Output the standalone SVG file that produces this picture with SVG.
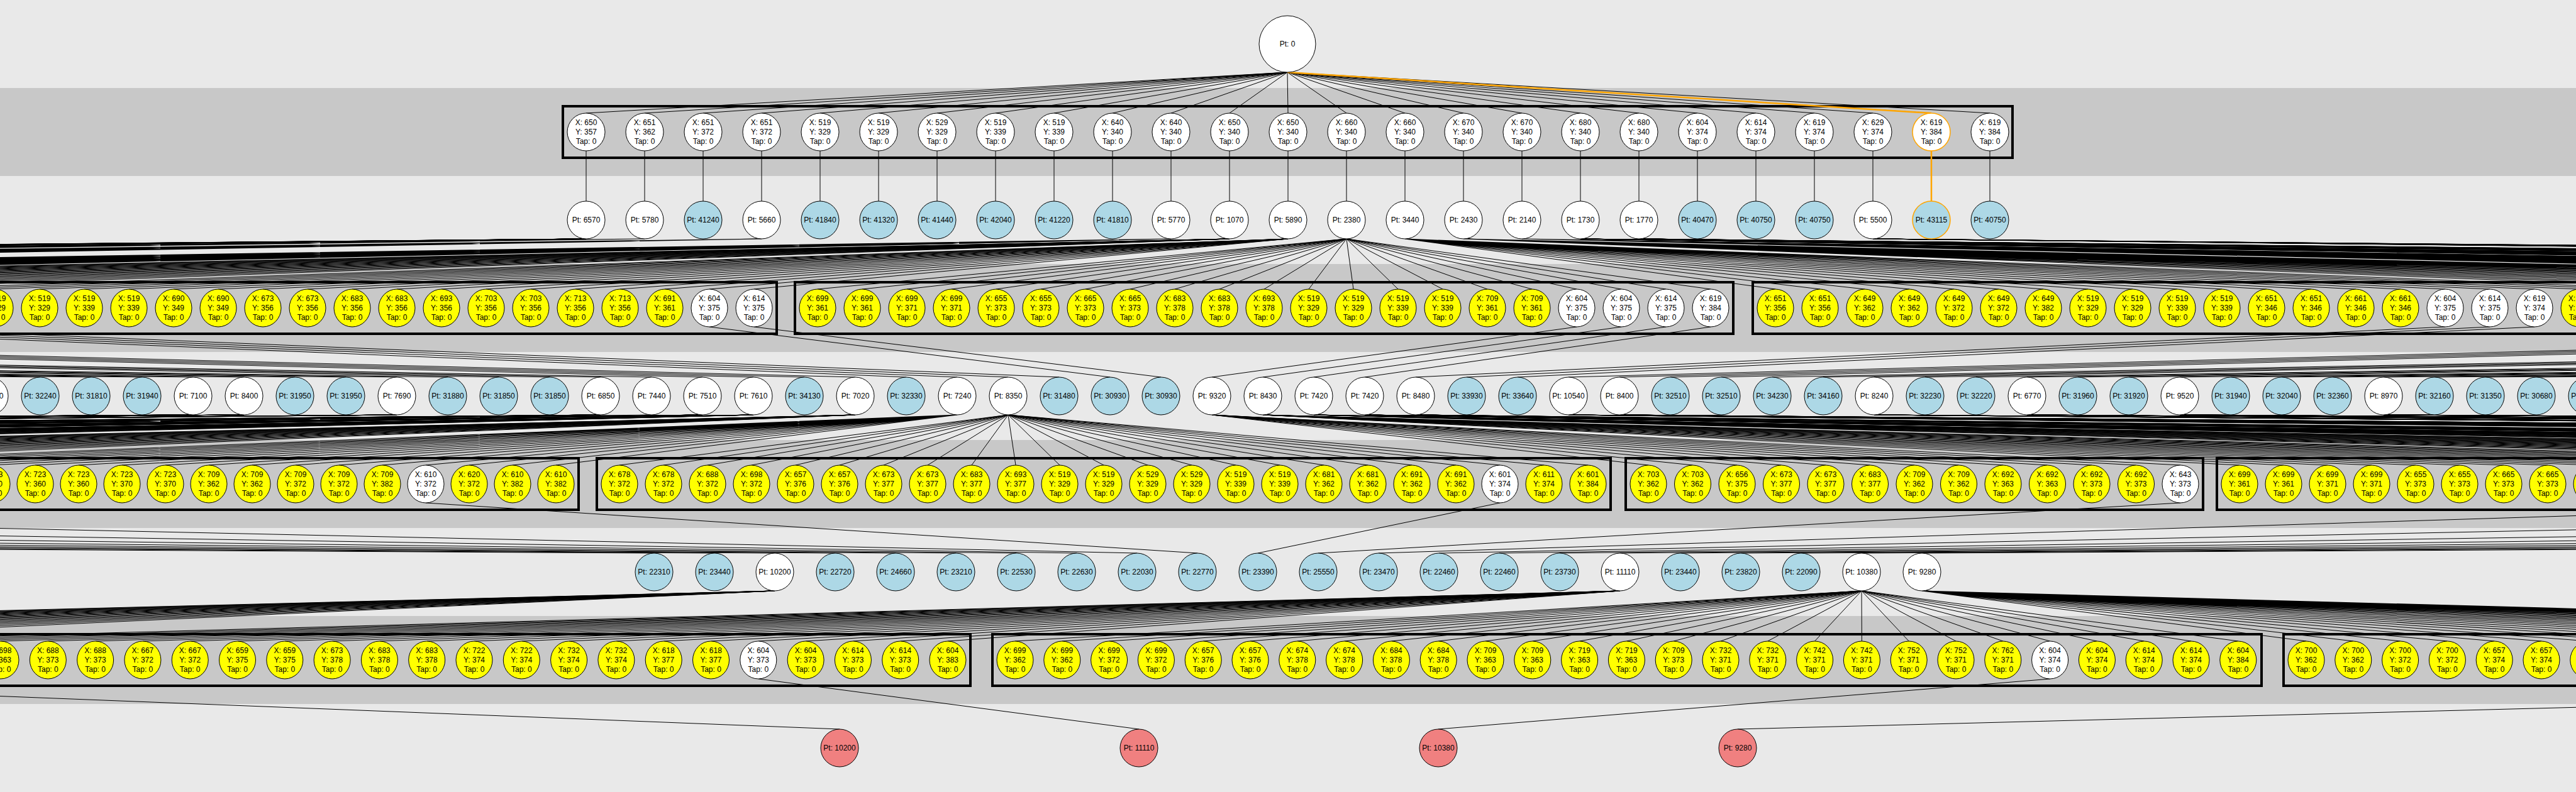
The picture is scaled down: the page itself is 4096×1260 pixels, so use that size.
<svg xmlns="http://www.w3.org/2000/svg" xmlns:xlink="http://www.w3.org/1999/xlink" width="4096" height="1260" viewBox="0 0 4096 1260">
<style>
.bg{fill:#e9e9e9}
.band{fill:#c8c8c8}
.box{fill:none;stroke:#000;stroke-width:4}
.ln{fill:none;stroke:#000;stroke-width:1}
.or{fill:none;stroke:#ffa500;stroke-width:2.5}
circle,ellipse{stroke:#000;stroke-width:1}
.w{fill:#fff}.b{fill:#add8e6}.y{fill:#ff0}.r{fill:#f08080}
.ob{stroke:#ffa500;stroke-width:1.5}
text{font-family:"Liberation Sans",Arial,sans-serif;font-size:12px;text-anchor:middle;dominant-baseline:central;fill:#000}
</style>
<defs>
<path id="f13" fill="none" stroke="#000" stroke-width="1" vector-effect="non-scaling-stroke" d="M0 0L0 1M0 0L1 1M0 0L2 1M0 0L3 1M0 0L4 1M0 0L5 1M0 0L6 1M0 0L7 1M0 0L8 1M0 0L9 1M0 0L10 1M0 0L11 1M0 0L12 1"/>
<path id="f20" fill="none" stroke="#000" stroke-width="1" vector-effect="non-scaling-stroke" d="M0 0L0 1M0 0L1 1M0 0L2 1M0 0L3 1M0 0L4 1M0 0L5 1M0 0L6 1M0 0L7 1M0 0L8 1M0 0L9 1M0 0L10 1M0 0L11 1M0 0L12 1M0 0L13 1M0 0L14 1M0 0L15 1M0 0L16 1M0 0L17 1M0 0L18 1M0 0L19 1"/>
<path id="f21" fill="none" stroke="#000" stroke-width="1" vector-effect="non-scaling-stroke" d="M0 0L0 1M0 0L1 1M0 0L2 1M0 0L3 1M0 0L4 1M0 0L5 1M0 0L6 1M0 0L7 1M0 0L8 1M0 0L9 1M0 0L10 1M0 0L11 1M0 0L12 1M0 0L13 1M0 0L14 1M0 0L15 1M0 0L16 1M0 0L17 1M0 0L18 1M0 0L19 1M0 0L20 1"/>
<path id="f23" fill="none" stroke="#000" stroke-width="1" vector-effect="non-scaling-stroke" d="M0 0L0 1M0 0L1 1M0 0L2 1M0 0L3 1M0 0L4 1M0 0L5 1M0 0L6 1M0 0L7 1M0 0L8 1M0 0L9 1M0 0L10 1M0 0L11 1M0 0L12 1M0 0L13 1M0 0L14 1M0 0L15 1M0 0L16 1M0 0L17 1M0 0L18 1M0 0L19 1M0 0L20 1M0 0L21 1M0 0L22 1"/>
<path id="f25" fill="none" stroke="#000" stroke-width="1" vector-effect="non-scaling-stroke" d="M0 0L0 1M0 0L1 1M0 0L2 1M0 0L3 1M0 0L4 1M0 0L5 1M0 0L6 1M0 0L7 1M0 0L8 1M0 0L9 1M0 0L10 1M0 0L11 1M0 0L12 1M0 0L13 1M0 0L14 1M0 0L15 1M0 0L16 1M0 0L17 1M0 0L18 1M0 0L19 1M0 0L20 1M0 0L21 1M0 0L22 1M0 0L23 1M0 0L24 1"/>
<path id="f27" fill="none" stroke="#000" stroke-width="1" vector-effect="non-scaling-stroke" d="M0 0L0 1M0 0L1 1M0 0L2 1M0 0L3 1M0 0L4 1M0 0L5 1M0 0L6 1M0 0L7 1M0 0L8 1M0 0L9 1M0 0L10 1M0 0L11 1M0 0L12 1M0 0L13 1M0 0L14 1M0 0L15 1M0 0L16 1M0 0L17 1M0 0L18 1M0 0L19 1M0 0L20 1M0 0L21 1M0 0L22 1M0 0L23 1M0 0L24 1M0 0L25 1M0 0L26 1"/>
<path id="f32" fill="none" stroke="#000" stroke-width="1" vector-effect="non-scaling-stroke" d="M0 0L0 1M0 0L1 1M0 0L2 1M0 0L3 1M0 0L4 1M0 0L5 1M0 0L6 1M0 0L7 1M0 0L8 1M0 0L9 1M0 0L10 1M0 0L11 1M0 0L12 1M0 0L13 1M0 0L14 1M0 0L15 1M0 0L16 1M0 0L17 1M0 0L18 1M0 0L19 1M0 0L20 1M0 0L21 1M0 0L22 1M0 0L23 1M0 0L24 1M0 0L25 1M0 0L26 1M0 0L27 1M0 0L28 1M0 0L29 1M0 0L30 1M0 0L31 1"/>
</defs>
<rect class="bg" x="0" y="0" width="4096" height="1260"/>
<g id="bands">
<rect class="band" x="0" y="140" width="4096" height="140"/>
<rect class="band" x="0" y="420" width="4096" height="140"/>
<rect class="band" x="0" y="700" width="4096" height="140"/>
<rect class="band" x="0" y="980" width="4096" height="140"/>
</g>
<g id="clusters">
<rect class="box" x="895" y="169" width="2305" height="82"/>
<rect class="box" x="-190" y="449" width="1425" height="82"/>
<rect class="box" x="1264" y="449" width="1492" height="82"/>
<rect class="box" x="2787" y="449" width="1500" height="82"/>
<rect class="box" x="-500" y="729" width="1420" height="82"/>
<rect class="box" x="949" y="729" width="1612" height="82"/>
<rect class="box" x="2585" y="729" width="918" height="82"/>
<rect class="box" x="3525" y="729" width="700" height="82"/>
<rect class="box" x="-340" y="1009" width="1883" height="82"/>
<rect class="box" x="1578" y="1009" width="2018" height="82"/>
<rect class="box" x="3631" y="1009" width="700" height="82"/>
</g>
<g id="connectors">
<use href="#f25" transform="matrix(93 0 -1115 65 2047 115)"/>
<path class="ln" d="M932 240V320M1025 240V320M1118 240V320M1211 240V320M1304 240V320M1397 240V320M1490 240V320M1583 240V320M1676 240V320M1769 240V320M1862 240V320M1955 240V320M2048 240V320M2141 240V320M2234 240V320M2327 240V320M2420 240V320M2513 240V320M2606 240V320M2699 240V320M2792 240V320M2885 240V320M2978 240V320M3164 240V320"/>
<use href="#f21" transform="matrix(71 0 -8682 80 932 380)"/>
<use href="#f21" transform="matrix(71 0 -7255 80 1025 380)"/>
<use href="#f21" transform="matrix(71 0 -5921 80 1211 380)"/>
<use href="#f21" transform="matrix(71 0 -5052 80 1862 380)"/>
<use href="#f21" transform="matrix(71 0 -3625 80 1955 380)"/>
<use href="#f20" transform="matrix(71 0 -2198 80 2048 380)"/>
<use href="#f21" transform="matrix(71 0 -841 80 2141 380)"/>
<use href="#f21" transform="matrix(71 0 589 80 2234 380)"/>
<use href="#f21" transform="matrix(71 0 2018 80 2327 380)"/>
<use href="#f21" transform="matrix(71 0 3447 80 2420 380)"/>
<use href="#f21" transform="matrix(71 0 4876 80 2513 380)"/>
<use href="#f21" transform="matrix(71 0 6305 80 2606 380)"/>
<use href="#f21" transform="matrix(71 0 7455 80 2978 380)"/>
<path class="ln" d="M-6685 520L-17 600M-6614 520L64 600M-6543 520L145 600M-6472 520L226 600M-6401 520L307 600M-6330 520L388 600M-5023 520L469 600M-4952 520L550 600M-4881 520L631 600M-4810 520L712 600M-3503 520L793 600M-3432 520L874 600M-3361 520L955 600M-3290 520L1036 600M-1983 520L1117 600M-1912 520L1198 600M-1841 520L1279 600M-1770 520L1360 600M-463 520L1441 600M-392 520L1522 600M-321 520L1603 600M-250 520L1684 600M1128 520L1765 600M1199 520L1846 600M2507 520L1927 600M2578 520L2008 600M2649 520L2089 600M2720 520L2170 600M3888 520L2251 600M3959 520L2332 600M4030 520L2413 600M5481 520L2494 600M5552 520L2575 600M5623 520L2656 600M5694 520L2737 600M7003 520L2818 600M7074 520L2899 600M7145 520L2980 600M7216 520L3061 600M8525 520L3142 600M8596 520L3223 600M8667 520L3304 600M8738 520L3385 600M10047 520L3466 600M10118 520L3547 600M10189 520L3628 600M10260 520L3709 600M11498 520L3790 600M11569 520L3871 600M11640 520L3952 600M11711 520L4033 600M11782 520L4114 600"/>
<use href="#f20" transform="matrix(70 0 -13298 80 -17 660)"/>
<use href="#f20" transform="matrix(70 0 -12190 80 307 660)"/>
<use href="#f20" transform="matrix(70 0 -10839 80 388 660)"/>
<use href="#f20" transform="matrix(70 0 -9650 80 631 660)"/>
<use href="#f20" transform="matrix(70 0 -8542 80 955 660)"/>
<use href="#f20" transform="matrix(70 0 -7191 80 1036 660)"/>
<use href="#f20" transform="matrix(70 0 -5840 80 1117 660)"/>
<use href="#f20" transform="matrix(70 0 -4489 80 1198 660)"/>
<use href="#f20" transform="matrix(70 0 -3219 80 1360 660)"/>
<use href="#f20" transform="matrix(69 0 -1949 80 1522 660)"/>
<use href="#f23" transform="matrix(70 0 -618 80 1603 660)"/>
<use href="#f13" transform="matrix(70.5 0 694 80 1927 660)"/>
<use href="#f20" transform="matrix(70 0 1553 80 2008 660)"/>
<use href="#f20" transform="matrix(70 0 2904 80 2089 660)"/>
<use href="#f20" transform="matrix(70 0 4255 80 2170 660)"/>
<use href="#f20" transform="matrix(70 0 5606 80 2251 660)"/>
<use href="#f20" transform="matrix(70 0 6795 80 2494 660)"/>
<use href="#f20" transform="matrix(70 0 8146 80 2575 660)"/>
<use href="#f20" transform="matrix(70 0 9173 80 2980 660)"/>
<use href="#f20" transform="matrix(70 0 10362 80 3223 660)"/>
<use href="#f20" transform="matrix(70 0 11551 80 3466 660)"/>
<use href="#f20" transform="matrix(70 0 12659 80 3790 660)"/>
<path class="ln" d="M-13315 800L1040 880M-11883 800L1136 880M-10451 800L1232 880M-9019 800L1328 880M-7587 800L1424 880M-6155 800L1520 880M-4723 800L1616 880M-3291 800L1712 880M-1859 800L1808 880M677 800L1904 880M2385 800L2000 880M3467 800L2096 880M4751 800L2192 880M6183 800L2288 880M7615 800L2384 880M9047 800L2480 880M10479 800L2576 880M11911 800L2672 880M13343 800L2768 880M14775 800L2864 880M16207 800L2960 880M17639 800L3056 880"/>
<use href="#f20" transform="matrix(75.3 0 -3138 80 1232 940)"/>
<use href="#f25" transform="matrix(75.3 0 -2876 80 2576 940)"/>
<use href="#f27" transform="matrix(74.8 0 -1346 80 2960 940)"/>
<use href="#f32" transform="matrix(74.8 0 611 80 3056 940)"/>
<path class="ln" d="M-701 1080L1335 1160M1206 1080L1811 1160M3260 1080L2287 1160M5836 1080L2763 1160"/>
<path class="or" d="M2047 115L3071 180M3071 240V320"/>
</g>
<g id="nodes">
<g id="p0" transform="translate(2047 70)"><circle class="w" r="45"/><text>Pt: 0</text></g>
<g id="a1" transform="translate(932 210)"><circle class="w" r="30"/><text><tspan x="0" y="-15">X: 650</tspan><tspan x="0" y="0">Y: 357</tspan><tspan x="0" y="15">Tap: 0</tspan></text></g>
<g id="a2" transform="translate(1025 210)"><circle class="w" r="30"/><text><tspan x="0" y="-15">X: 651</tspan><tspan x="0" y="0">Y: 362</tspan><tspan x="0" y="15">Tap: 0</tspan></text></g>
<g id="a3" transform="translate(1118 210)"><circle class="w" r="30"/><text><tspan x="0" y="-15">X: 651</tspan><tspan x="0" y="0">Y: 372</tspan><tspan x="0" y="15">Tap: 0</tspan></text></g>
<g id="a4" transform="translate(1211 210)"><circle class="w" r="30"/><text><tspan x="0" y="-15">X: 651</tspan><tspan x="0" y="0">Y: 372</tspan><tspan x="0" y="15">Tap: 0</tspan></text></g>
<g id="a5" transform="translate(1304 210)"><circle class="w" r="30"/><text><tspan x="0" y="-15">X: 519</tspan><tspan x="0" y="0">Y: 329</tspan><tspan x="0" y="15">Tap: 0</tspan></text></g>
<g id="a6" transform="translate(1397 210)"><circle class="w" r="30"/><text><tspan x="0" y="-15">X: 519</tspan><tspan x="0" y="0">Y: 329</tspan><tspan x="0" y="15">Tap: 0</tspan></text></g>
<g id="a7" transform="translate(1490 210)"><circle class="w" r="30"/><text><tspan x="0" y="-15">X: 529</tspan><tspan x="0" y="0">Y: 329</tspan><tspan x="0" y="15">Tap: 0</tspan></text></g>
<g id="a8" transform="translate(1583 210)"><circle class="w" r="30"/><text><tspan x="0" y="-15">X: 519</tspan><tspan x="0" y="0">Y: 339</tspan><tspan x="0" y="15">Tap: 0</tspan></text></g>
<g id="a9" transform="translate(1676 210)"><circle class="w" r="30"/><text><tspan x="0" y="-15">X: 519</tspan><tspan x="0" y="0">Y: 339</tspan><tspan x="0" y="15">Tap: 0</tspan></text></g>
<g id="a10" transform="translate(1769 210)"><circle class="w" r="30"/><text><tspan x="0" y="-15">X: 640</tspan><tspan x="0" y="0">Y: 340</tspan><tspan x="0" y="15">Tap: 0</tspan></text></g>
<g id="a11" transform="translate(1862 210)"><circle class="w" r="30"/><text><tspan x="0" y="-15">X: 640</tspan><tspan x="0" y="0">Y: 340</tspan><tspan x="0" y="15">Tap: 0</tspan></text></g>
<g id="a12" transform="translate(1955 210)"><circle class="w" r="30"/><text><tspan x="0" y="-15">X: 650</tspan><tspan x="0" y="0">Y: 340</tspan><tspan x="0" y="15">Tap: 0</tspan></text></g>
<g id="a13" transform="translate(2048 210)"><circle class="w" r="30"/><text><tspan x="0" y="-15">X: 650</tspan><tspan x="0" y="0">Y: 340</tspan><tspan x="0" y="15">Tap: 0</tspan></text></g>
<g id="a14" transform="translate(2141 210)"><circle class="w" r="30"/><text><tspan x="0" y="-15">X: 660</tspan><tspan x="0" y="0">Y: 340</tspan><tspan x="0" y="15">Tap: 0</tspan></text></g>
<g id="a15" transform="translate(2234 210)"><circle class="w" r="30"/><text><tspan x="0" y="-15">X: 660</tspan><tspan x="0" y="0">Y: 340</tspan><tspan x="0" y="15">Tap: 0</tspan></text></g>
<g id="a16" transform="translate(2327 210)"><circle class="w" r="30"/><text><tspan x="0" y="-15">X: 670</tspan><tspan x="0" y="0">Y: 340</tspan><tspan x="0" y="15">Tap: 0</tspan></text></g>
<g id="a17" transform="translate(2420 210)"><circle class="w" r="30"/><text><tspan x="0" y="-15">X: 670</tspan><tspan x="0" y="0">Y: 340</tspan><tspan x="0" y="15">Tap: 0</tspan></text></g>
<g id="a18" transform="translate(2513 210)"><circle class="w" r="30"/><text><tspan x="0" y="-15">X: 680</tspan><tspan x="0" y="0">Y: 340</tspan><tspan x="0" y="15">Tap: 0</tspan></text></g>
<g id="a19" transform="translate(2606 210)"><circle class="w" r="30"/><text><tspan x="0" y="-15">X: 680</tspan><tspan x="0" y="0">Y: 340</tspan><tspan x="0" y="15">Tap: 0</tspan></text></g>
<g id="a20" transform="translate(2699 210)"><circle class="w" r="30"/><text><tspan x="0" y="-15">X: 604</tspan><tspan x="0" y="0">Y: 374</tspan><tspan x="0" y="15">Tap: 0</tspan></text></g>
<g id="a21" transform="translate(2792 210)"><circle class="w" r="30"/><text><tspan x="0" y="-15">X: 614</tspan><tspan x="0" y="0">Y: 374</tspan><tspan x="0" y="15">Tap: 0</tspan></text></g>
<g id="a22" transform="translate(2885 210)"><circle class="w" r="30"/><text><tspan x="0" y="-15">X: 619</tspan><tspan x="0" y="0">Y: 374</tspan><tspan x="0" y="15">Tap: 0</tspan></text></g>
<g id="a23" transform="translate(2978 210)"><circle class="w" r="30"/><text><tspan x="0" y="-15">X: 629</tspan><tspan x="0" y="0">Y: 374</tspan><tspan x="0" y="15">Tap: 0</tspan></text></g>
<g id="a24" transform="translate(3071 210)"><circle class="w ob" r="30"/><text><tspan x="0" y="-15">X: 619</tspan><tspan x="0" y="0">Y: 384</tspan><tspan x="0" y="15">Tap: 0</tspan></text></g>
<g id="a25" transform="translate(3164 210)"><circle class="w" r="30"/><text><tspan x="0" y="-15">X: 619</tspan><tspan x="0" y="0">Y: 384</tspan><tspan x="0" y="15">Tap: 0</tspan></text></g>
<g id="b1" transform="translate(932 350)"><circle class="w" r="30"/><text>Pt: 6570</text></g>
<g id="b2" transform="translate(1025 350)"><circle class="w" r="30"/><text>Pt: 5780</text></g>
<g id="b3" transform="translate(1118 350)"><circle class="b" r="30"/><text>Pt: 41240</text></g>
<g id="b4" transform="translate(1211 350)"><circle class="w" r="30"/><text>Pt: 5660</text></g>
<g id="b5" transform="translate(1304 350)"><circle class="b" r="30"/><text>Pt: 41840</text></g>
<g id="b6" transform="translate(1397 350)"><circle class="b" r="30"/><text>Pt: 41320</text></g>
<g id="b7" transform="translate(1490 350)"><circle class="b" r="30"/><text>Pt: 41440</text></g>
<g id="b8" transform="translate(1583 350)"><circle class="b" r="30"/><text>Pt: 42040</text></g>
<g id="b9" transform="translate(1676 350)"><circle class="b" r="30"/><text>Pt: 41220</text></g>
<g id="b10" transform="translate(1769 350)"><circle class="b" r="30"/><text>Pt: 41810</text></g>
<g id="b11" transform="translate(1862 350)"><circle class="w" r="30"/><text>Pt: 5770</text></g>
<g id="b12" transform="translate(1955 350)"><circle class="w" r="30"/><text>Pt: 1070</text></g>
<g id="b13" transform="translate(2048 350)"><circle class="w" r="30"/><text>Pt: 5890</text></g>
<g id="b14" transform="translate(2141 350)"><circle class="w" r="30"/><text>Pt: 2380</text></g>
<g id="b15" transform="translate(2234 350)"><circle class="w" r="30"/><text>Pt: 3440</text></g>
<g id="b16" transform="translate(2327 350)"><circle class="w" r="30"/><text>Pt: 2430</text></g>
<g id="b17" transform="translate(2420 350)"><circle class="w" r="30"/><text>Pt: 2140</text></g>
<g id="b18" transform="translate(2513 350)"><circle class="w" r="30"/><text>Pt: 1730</text></g>
<g id="b19" transform="translate(2606 350)"><circle class="w" r="30"/><text>Pt: 1770</text></g>
<g id="b20" transform="translate(2699 350)"><circle class="b" r="30"/><text>Pt: 40470</text></g>
<g id="b21" transform="translate(2792 350)"><circle class="b" r="30"/><text>Pt: 40750</text></g>
<g id="b22" transform="translate(2885 350)"><circle class="b" r="30"/><text>Pt: 40750</text></g>
<g id="b23" transform="translate(2978 350)"><circle class="w" r="30"/><text>Pt: 5500</text></g>
<g id="b24" transform="translate(3071 350)"><circle class="b ob" r="30"/><text>Pt: 43115</text></g>
<g id="b25" transform="translate(3164 350)"><circle class="b" r="30"/><text>Pt: 40750</text></g>
<g id="c1" transform="translate(-8 490)"><ellipse class="y" rx="29" ry="30"/><text><tspan x="0" y="-15">X: 519</tspan><tspan x="0" y="0">Y: 329</tspan><tspan x="0" y="15">Tap: 0</tspan></text></g>
<g id="c2" transform="translate(63 490)"><ellipse class="y" rx="29" ry="30"/><text><tspan x="0" y="-15">X: 519</tspan><tspan x="0" y="0">Y: 329</tspan><tspan x="0" y="15">Tap: 0</tspan></text></g>
<g id="c3" transform="translate(134 490)"><ellipse class="y" rx="29" ry="30"/><text><tspan x="0" y="-15">X: 519</tspan><tspan x="0" y="0">Y: 339</tspan><tspan x="0" y="15">Tap: 0</tspan></text></g>
<g id="c4" transform="translate(205 490)"><ellipse class="y" rx="29" ry="30"/><text><tspan x="0" y="-15">X: 519</tspan><tspan x="0" y="0">Y: 339</tspan><tspan x="0" y="15">Tap: 0</tspan></text></g>
<g id="c5" transform="translate(276 490)"><ellipse class="y" rx="29" ry="30"/><text><tspan x="0" y="-15">X: 690</tspan><tspan x="0" y="0">Y: 349</tspan><tspan x="0" y="15">Tap: 0</tspan></text></g>
<g id="c6" transform="translate(347 490)"><ellipse class="y" rx="29" ry="30"/><text><tspan x="0" y="-15">X: 690</tspan><tspan x="0" y="0">Y: 349</tspan><tspan x="0" y="15">Tap: 0</tspan></text></g>
<g id="c7" transform="translate(418 490)"><ellipse class="y" rx="29" ry="30"/><text><tspan x="0" y="-15">X: 673</tspan><tspan x="0" y="0">Y: 356</tspan><tspan x="0" y="15">Tap: 0</tspan></text></g>
<g id="c8" transform="translate(489 490)"><ellipse class="y" rx="29" ry="30"/><text><tspan x="0" y="-15">X: 673</tspan><tspan x="0" y="0">Y: 356</tspan><tspan x="0" y="15">Tap: 0</tspan></text></g>
<g id="c9" transform="translate(560 490)"><ellipse class="y" rx="29" ry="30"/><text><tspan x="0" y="-15">X: 683</tspan><tspan x="0" y="0">Y: 356</tspan><tspan x="0" y="15">Tap: 0</tspan></text></g>
<g id="c10" transform="translate(631 490)"><ellipse class="y" rx="29" ry="30"/><text><tspan x="0" y="-15">X: 683</tspan><tspan x="0" y="0">Y: 356</tspan><tspan x="0" y="15">Tap: 0</tspan></text></g>
<g id="c11" transform="translate(702 490)"><ellipse class="y" rx="29" ry="30"/><text><tspan x="0" y="-15">X: 693</tspan><tspan x="0" y="0">Y: 356</tspan><tspan x="0" y="15">Tap: 0</tspan></text></g>
<g id="c12" transform="translate(773 490)"><ellipse class="y" rx="29" ry="30"/><text><tspan x="0" y="-15">X: 703</tspan><tspan x="0" y="0">Y: 356</tspan><tspan x="0" y="15">Tap: 0</tspan></text></g>
<g id="c13" transform="translate(844 490)"><ellipse class="y" rx="29" ry="30"/><text><tspan x="0" y="-15">X: 703</tspan><tspan x="0" y="0">Y: 356</tspan><tspan x="0" y="15">Tap: 0</tspan></text></g>
<g id="c14" transform="translate(915 490)"><ellipse class="y" rx="29" ry="30"/><text><tspan x="0" y="-15">X: 713</tspan><tspan x="0" y="0">Y: 356</tspan><tspan x="0" y="15">Tap: 0</tspan></text></g>
<g id="c15" transform="translate(986 490)"><ellipse class="y" rx="29" ry="30"/><text><tspan x="0" y="-15">X: 713</tspan><tspan x="0" y="0">Y: 356</tspan><tspan x="0" y="15">Tap: 0</tspan></text></g>
<g id="c16" transform="translate(1057 490)"><ellipse class="y" rx="29" ry="30"/><text><tspan x="0" y="-15">X: 691</tspan><tspan x="0" y="0">Y: 361</tspan><tspan x="0" y="15">Tap: 0</tspan></text></g>
<g id="c17" transform="translate(1128 490)"><ellipse class="w" rx="29" ry="30"/><text><tspan x="0" y="-15">X: 604</tspan><tspan x="0" y="0">Y: 375</tspan><tspan x="0" y="15">Tap: 0</tspan></text></g>
<g id="c18" transform="translate(1199 490)"><ellipse class="w" rx="29" ry="30"/><text><tspan x="0" y="-15">X: 614</tspan><tspan x="0" y="0">Y: 375</tspan><tspan x="0" y="15">Tap: 0</tspan></text></g>
<g id="c19" transform="translate(1300 490)"><ellipse class="y" rx="29" ry="30"/><text><tspan x="0" y="-15">X: 699</tspan><tspan x="0" y="0">Y: 361</tspan><tspan x="0" y="15">Tap: 0</tspan></text></g>
<g id="c20" transform="translate(1371 490)"><ellipse class="y" rx="29" ry="30"/><text><tspan x="0" y="-15">X: 699</tspan><tspan x="0" y="0">Y: 361</tspan><tspan x="0" y="15">Tap: 0</tspan></text></g>
<g id="c21" transform="translate(1442 490)"><ellipse class="y" rx="29" ry="30"/><text><tspan x="0" y="-15">X: 699</tspan><tspan x="0" y="0">Y: 371</tspan><tspan x="0" y="15">Tap: 0</tspan></text></g>
<g id="c22" transform="translate(1513 490)"><ellipse class="y" rx="29" ry="30"/><text><tspan x="0" y="-15">X: 699</tspan><tspan x="0" y="0">Y: 371</tspan><tspan x="0" y="15">Tap: 0</tspan></text></g>
<g id="c23" transform="translate(1584 490)"><ellipse class="y" rx="29" ry="30"/><text><tspan x="0" y="-15">X: 655</tspan><tspan x="0" y="0">Y: 373</tspan><tspan x="0" y="15">Tap: 0</tspan></text></g>
<g id="c24" transform="translate(1655 490)"><ellipse class="y" rx="29" ry="30"/><text><tspan x="0" y="-15">X: 655</tspan><tspan x="0" y="0">Y: 373</tspan><tspan x="0" y="15">Tap: 0</tspan></text></g>
<g id="c25" transform="translate(1726 490)"><ellipse class="y" rx="29" ry="30"/><text><tspan x="0" y="-15">X: 665</tspan><tspan x="0" y="0">Y: 373</tspan><tspan x="0" y="15">Tap: 0</tspan></text></g>
<g id="c26" transform="translate(1797 490)"><ellipse class="y" rx="29" ry="30"/><text><tspan x="0" y="-15">X: 665</tspan><tspan x="0" y="0">Y: 373</tspan><tspan x="0" y="15">Tap: 0</tspan></text></g>
<g id="c27" transform="translate(1868 490)"><ellipse class="y" rx="29" ry="30"/><text><tspan x="0" y="-15">X: 683</tspan><tspan x="0" y="0">Y: 378</tspan><tspan x="0" y="15">Tap: 0</tspan></text></g>
<g id="c28" transform="translate(1939 490)"><ellipse class="y" rx="29" ry="30"/><text><tspan x="0" y="-15">X: 683</tspan><tspan x="0" y="0">Y: 378</tspan><tspan x="0" y="15">Tap: 0</tspan></text></g>
<g id="c29" transform="translate(2010 490)"><ellipse class="y" rx="29" ry="30"/><text><tspan x="0" y="-15">X: 693</tspan><tspan x="0" y="0">Y: 378</tspan><tspan x="0" y="15">Tap: 0</tspan></text></g>
<g id="c30" transform="translate(2081 490)"><ellipse class="y" rx="29" ry="30"/><text><tspan x="0" y="-15">X: 519</tspan><tspan x="0" y="0">Y: 329</tspan><tspan x="0" y="15">Tap: 0</tspan></text></g>
<g id="c31" transform="translate(2152 490)"><ellipse class="y" rx="29" ry="30"/><text><tspan x="0" y="-15">X: 519</tspan><tspan x="0" y="0">Y: 329</tspan><tspan x="0" y="15">Tap: 0</tspan></text></g>
<g id="c32" transform="translate(2223 490)"><ellipse class="y" rx="29" ry="30"/><text><tspan x="0" y="-15">X: 519</tspan><tspan x="0" y="0">Y: 339</tspan><tspan x="0" y="15">Tap: 0</tspan></text></g>
<g id="c33" transform="translate(2294 490)"><ellipse class="y" rx="29" ry="30"/><text><tspan x="0" y="-15">X: 519</tspan><tspan x="0" y="0">Y: 339</tspan><tspan x="0" y="15">Tap: 0</tspan></text></g>
<g id="c34" transform="translate(2365 490)"><ellipse class="y" rx="29" ry="30"/><text><tspan x="0" y="-15">X: 709</tspan><tspan x="0" y="0">Y: 361</tspan><tspan x="0" y="15">Tap: 0</tspan></text></g>
<g id="c35" transform="translate(2436 490)"><ellipse class="y" rx="29" ry="30"/><text><tspan x="0" y="-15">X: 709</tspan><tspan x="0" y="0">Y: 361</tspan><tspan x="0" y="15">Tap: 0</tspan></text></g>
<g id="c36" transform="translate(2507 490)"><ellipse class="w" rx="29" ry="30"/><text><tspan x="0" y="-15">X: 604</tspan><tspan x="0" y="0">Y: 375</tspan><tspan x="0" y="15">Tap: 0</tspan></text></g>
<g id="c37" transform="translate(2578 490)"><ellipse class="w" rx="29" ry="30"/><text><tspan x="0" y="-15">X: 604</tspan><tspan x="0" y="0">Y: 375</tspan><tspan x="0" y="15">Tap: 0</tspan></text></g>
<g id="c38" transform="translate(2649 490)"><ellipse class="w" rx="29" ry="30"/><text><tspan x="0" y="-15">X: 614</tspan><tspan x="0" y="0">Y: 375</tspan><tspan x="0" y="15">Tap: 0</tspan></text></g>
<g id="c39" transform="translate(2720 490)"><ellipse class="w" rx="29" ry="30"/><text><tspan x="0" y="-15">X: 619</tspan><tspan x="0" y="0">Y: 384</tspan><tspan x="0" y="15">Tap: 0</tspan></text></g>
<g id="c40" transform="translate(2823 490)"><ellipse class="y" rx="29" ry="30"/><text><tspan x="0" y="-15">X: 651</tspan><tspan x="0" y="0">Y: 356</tspan><tspan x="0" y="15">Tap: 0</tspan></text></g>
<g id="c41" transform="translate(2894 490)"><ellipse class="y" rx="29" ry="30"/><text><tspan x="0" y="-15">X: 651</tspan><tspan x="0" y="0">Y: 356</tspan><tspan x="0" y="15">Tap: 0</tspan></text></g>
<g id="c42" transform="translate(2965 490)"><ellipse class="y" rx="29" ry="30"/><text><tspan x="0" y="-15">X: 649</tspan><tspan x="0" y="0">Y: 362</tspan><tspan x="0" y="15">Tap: 0</tspan></text></g>
<g id="c43" transform="translate(3036 490)"><ellipse class="y" rx="29" ry="30"/><text><tspan x="0" y="-15">X: 649</tspan><tspan x="0" y="0">Y: 362</tspan><tspan x="0" y="15">Tap: 0</tspan></text></g>
<g id="c44" transform="translate(3107 490)"><ellipse class="y" rx="29" ry="30"/><text><tspan x="0" y="-15">X: 649</tspan><tspan x="0" y="0">Y: 372</tspan><tspan x="0" y="15">Tap: 0</tspan></text></g>
<g id="c45" transform="translate(3178 490)"><ellipse class="y" rx="29" ry="30"/><text><tspan x="0" y="-15">X: 649</tspan><tspan x="0" y="0">Y: 372</tspan><tspan x="0" y="15">Tap: 0</tspan></text></g>
<g id="c46" transform="translate(3249 490)"><ellipse class="y" rx="29" ry="30"/><text><tspan x="0" y="-15">X: 649</tspan><tspan x="0" y="0">Y: 382</tspan><tspan x="0" y="15">Tap: 0</tspan></text></g>
<g id="c47" transform="translate(3320 490)"><ellipse class="y" rx="29" ry="30"/><text><tspan x="0" y="-15">X: 519</tspan><tspan x="0" y="0">Y: 329</tspan><tspan x="0" y="15">Tap: 0</tspan></text></g>
<g id="c48" transform="translate(3391 490)"><ellipse class="y" rx="29" ry="30"/><text><tspan x="0" y="-15">X: 519</tspan><tspan x="0" y="0">Y: 329</tspan><tspan x="0" y="15">Tap: 0</tspan></text></g>
<g id="c49" transform="translate(3462 490)"><ellipse class="y" rx="29" ry="30"/><text><tspan x="0" y="-15">X: 519</tspan><tspan x="0" y="0">Y: 339</tspan><tspan x="0" y="15">Tap: 0</tspan></text></g>
<g id="c50" transform="translate(3533 490)"><ellipse class="y" rx="29" ry="30"/><text><tspan x="0" y="-15">X: 519</tspan><tspan x="0" y="0">Y: 339</tspan><tspan x="0" y="15">Tap: 0</tspan></text></g>
<g id="c51" transform="translate(3604 490)"><ellipse class="y" rx="29" ry="30"/><text><tspan x="0" y="-15">X: 651</tspan><tspan x="0" y="0">Y: 346</tspan><tspan x="0" y="15">Tap: 0</tspan></text></g>
<g id="c52" transform="translate(3675 490)"><ellipse class="y" rx="29" ry="30"/><text><tspan x="0" y="-15">X: 651</tspan><tspan x="0" y="0">Y: 346</tspan><tspan x="0" y="15">Tap: 0</tspan></text></g>
<g id="c53" transform="translate(3746 490)"><ellipse class="y" rx="29" ry="30"/><text><tspan x="0" y="-15">X: 661</tspan><tspan x="0" y="0">Y: 346</tspan><tspan x="0" y="15">Tap: 0</tspan></text></g>
<g id="c54" transform="translate(3817 490)"><ellipse class="y" rx="29" ry="30"/><text><tspan x="0" y="-15">X: 661</tspan><tspan x="0" y="0">Y: 346</tspan><tspan x="0" y="15">Tap: 0</tspan></text></g>
<g id="c55" transform="translate(3888 490)"><ellipse class="w" rx="29" ry="30"/><text><tspan x="0" y="-15">X: 604</tspan><tspan x="0" y="0">Y: 375</tspan><tspan x="0" y="15">Tap: 0</tspan></text></g>
<g id="c56" transform="translate(3959 490)"><ellipse class="w" rx="29" ry="30"/><text><tspan x="0" y="-15">X: 614</tspan><tspan x="0" y="0">Y: 375</tspan><tspan x="0" y="15">Tap: 0</tspan></text></g>
<g id="c57" transform="translate(4030 490)"><ellipse class="w" rx="29" ry="30"/><text><tspan x="0" y="-15">X: 619</tspan><tspan x="0" y="0">Y: 374</tspan><tspan x="0" y="15">Tap: 0</tspan></text></g>
<g id="c58" transform="translate(4101 490)"><ellipse class="y" rx="29" ry="30"/><text><tspan x="0" y="-15">X: 651</tspan><tspan x="0" y="0">Y: 356</tspan><tspan x="0" y="15">Tap: 0</tspan></text></g>
<g id="d0" transform="translate(-17 630)"><circle class="w" r="30"/><text>Pt: 8120</text></g>
<g id="d1" transform="translate(64 630)"><circle class="b" r="30"/><text>Pt: 32240</text></g>
<g id="d2" transform="translate(145 630)"><circle class="b" r="30"/><text>Pt: 31810</text></g>
<g id="d3" transform="translate(226 630)"><circle class="b" r="30"/><text>Pt: 31940</text></g>
<g id="d4" transform="translate(307 630)"><circle class="w" r="30"/><text>Pt: 7100</text></g>
<g id="d5" transform="translate(388 630)"><circle class="w" r="30"/><text>Pt: 8400</text></g>
<g id="d6" transform="translate(469 630)"><circle class="b" r="30"/><text>Pt: 31950</text></g>
<g id="d7" transform="translate(550 630)"><circle class="b" r="30"/><text>Pt: 31950</text></g>
<g id="d8" transform="translate(631 630)"><circle class="w" r="30"/><text>Pt: 7690</text></g>
<g id="d9" transform="translate(712 630)"><circle class="b" r="30"/><text>Pt: 31880</text></g>
<g id="d10" transform="translate(793 630)"><circle class="b" r="30"/><text>Pt: 31850</text></g>
<g id="d11" transform="translate(874 630)"><circle class="b" r="30"/><text>Pt: 31850</text></g>
<g id="d12" transform="translate(955 630)"><circle class="w" r="30"/><text>Pt: 6850</text></g>
<g id="d13" transform="translate(1036 630)"><circle class="w" r="30"/><text>Pt: 7440</text></g>
<g id="d14" transform="translate(1117 630)"><circle class="w" r="30"/><text>Pt: 7510</text></g>
<g id="d15" transform="translate(1198 630)"><circle class="w" r="30"/><text>Pt: 7610</text></g>
<g id="d16" transform="translate(1279 630)"><circle class="b" r="30"/><text>Pt: 34130</text></g>
<g id="d17" transform="translate(1360 630)"><circle class="w" r="30"/><text>Pt: 7020</text></g>
<g id="d18" transform="translate(1441 630)"><circle class="b" r="30"/><text>Pt: 32330</text></g>
<g id="d19" transform="translate(1522 630)"><circle class="w" r="30"/><text>Pt: 7240</text></g>
<g id="d20" transform="translate(1603 630)"><circle class="w" r="30"/><text>Pt: 8350</text></g>
<g id="d21" transform="translate(1684 630)"><circle class="b" r="30"/><text>Pt: 31480</text></g>
<g id="d22" transform="translate(1765 630)"><circle class="b" r="30"/><text>Pt: 30930</text></g>
<g id="d23" transform="translate(1846 630)"><circle class="b" r="30"/><text>Pt: 30930</text></g>
<g id="d24" transform="translate(1927 630)"><circle class="w" r="30"/><text>Pt: 9320</text></g>
<g id="d25" transform="translate(2008 630)"><circle class="w" r="30"/><text>Pt: 8430</text></g>
<g id="d26" transform="translate(2089 630)"><circle class="w" r="30"/><text>Pt: 7420</text></g>
<g id="d27" transform="translate(2170 630)"><circle class="w" r="30"/><text>Pt: 7420</text></g>
<g id="d28" transform="translate(2251 630)"><circle class="w" r="30"/><text>Pt: 8480</text></g>
<g id="d29" transform="translate(2332 630)"><circle class="b" r="30"/><text>Pt: 33930</text></g>
<g id="d30" transform="translate(2413 630)"><circle class="b" r="30"/><text>Pt: 33640</text></g>
<g id="d31" transform="translate(2494 630)"><circle class="w" r="30"/><text>Pt: 10540</text></g>
<g id="d32" transform="translate(2575 630)"><circle class="w" r="30"/><text>Pt: 8400</text></g>
<g id="d33" transform="translate(2656 630)"><circle class="b" r="30"/><text>Pt: 32510</text></g>
<g id="d34" transform="translate(2737 630)"><circle class="b" r="30"/><text>Pt: 32510</text></g>
<g id="d35" transform="translate(2818 630)"><circle class="b" r="30"/><text>Pt: 34230</text></g>
<g id="d36" transform="translate(2899 630)"><circle class="b" r="30"/><text>Pt: 34160</text></g>
<g id="d37" transform="translate(2980 630)"><circle class="w" r="30"/><text>Pt: 8240</text></g>
<g id="d38" transform="translate(3061 630)"><circle class="b" r="30"/><text>Pt: 32230</text></g>
<g id="d39" transform="translate(3142 630)"><circle class="b" r="30"/><text>Pt: 32220</text></g>
<g id="d40" transform="translate(3223 630)"><circle class="w" r="30"/><text>Pt: 6770</text></g>
<g id="d41" transform="translate(3304 630)"><circle class="b" r="30"/><text>Pt: 31960</text></g>
<g id="d42" transform="translate(3385 630)"><circle class="b" r="30"/><text>Pt: 31920</text></g>
<g id="d43" transform="translate(3466 630)"><circle class="w" r="30"/><text>Pt: 9520</text></g>
<g id="d44" transform="translate(3547 630)"><circle class="b" r="30"/><text>Pt: 31940</text></g>
<g id="d45" transform="translate(3628 630)"><circle class="b" r="30"/><text>Pt: 32040</text></g>
<g id="d46" transform="translate(3709 630)"><circle class="b" r="30"/><text>Pt: 32360</text></g>
<g id="d47" transform="translate(3790 630)"><circle class="w" r="30"/><text>Pt: 8970</text></g>
<g id="d48" transform="translate(3871 630)"><circle class="b" r="30"/><text>Pt: 32160</text></g>
<g id="d49" transform="translate(3952 630)"><circle class="b" r="30"/><text>Pt: 31350</text></g>
<g id="d50" transform="translate(4033 630)"><circle class="b" r="30"/><text>Pt: 30680</text></g>
<g id="d51" transform="translate(4114 630)"><circle class="b" r="30"/><text>Pt: 31800</text></g>
<g id="e1" transform="translate(-13 770)"><ellipse class="y" rx="29" ry="30"/><text><tspan x="0" y="-15">X: 733</tspan><tspan x="0" y="0">Y: 360</tspan><tspan x="0" y="15">Tap: 0</tspan></text></g>
<g id="e2" transform="translate(56 770)"><ellipse class="y" rx="29" ry="30"/><text><tspan x="0" y="-15">X: 723</tspan><tspan x="0" y="0">Y: 360</tspan><tspan x="0" y="15">Tap: 0</tspan></text></g>
<g id="e3" transform="translate(125 770)"><ellipse class="y" rx="29" ry="30"/><text><tspan x="0" y="-15">X: 723</tspan><tspan x="0" y="0">Y: 360</tspan><tspan x="0" y="15">Tap: 0</tspan></text></g>
<g id="e4" transform="translate(194 770)"><ellipse class="y" rx="29" ry="30"/><text><tspan x="0" y="-15">X: 723</tspan><tspan x="0" y="0">Y: 370</tspan><tspan x="0" y="15">Tap: 0</tspan></text></g>
<g id="e5" transform="translate(263 770)"><ellipse class="y" rx="29" ry="30"/><text><tspan x="0" y="-15">X: 723</tspan><tspan x="0" y="0">Y: 370</tspan><tspan x="0" y="15">Tap: 0</tspan></text></g>
<g id="e6" transform="translate(332 770)"><ellipse class="y" rx="29" ry="30"/><text><tspan x="0" y="-15">X: 709</tspan><tspan x="0" y="0">Y: 362</tspan><tspan x="0" y="15">Tap: 0</tspan></text></g>
<g id="e7" transform="translate(401 770)"><ellipse class="y" rx="29" ry="30"/><text><tspan x="0" y="-15">X: 709</tspan><tspan x="0" y="0">Y: 362</tspan><tspan x="0" y="15">Tap: 0</tspan></text></g>
<g id="e8" transform="translate(470 770)"><ellipse class="y" rx="29" ry="30"/><text><tspan x="0" y="-15">X: 709</tspan><tspan x="0" y="0">Y: 372</tspan><tspan x="0" y="15">Tap: 0</tspan></text></g>
<g id="e9" transform="translate(539 770)"><ellipse class="y" rx="29" ry="30"/><text><tspan x="0" y="-15">X: 709</tspan><tspan x="0" y="0">Y: 372</tspan><tspan x="0" y="15">Tap: 0</tspan></text></g>
<g id="e10" transform="translate(608 770)"><ellipse class="y" rx="29" ry="30"/><text><tspan x="0" y="-15">X: 709</tspan><tspan x="0" y="0">Y: 382</tspan><tspan x="0" y="15">Tap: 0</tspan></text></g>
<g id="e11" transform="translate(677 770)"><ellipse class="w" rx="29" ry="30"/><text><tspan x="0" y="-15">X: 610</tspan><tspan x="0" y="0">Y: 372</tspan><tspan x="0" y="15">Tap: 0</tspan></text></g>
<g id="e12" transform="translate(746 770)"><ellipse class="y" rx="29" ry="30"/><text><tspan x="0" y="-15">X: 620</tspan><tspan x="0" y="0">Y: 372</tspan><tspan x="0" y="15">Tap: 0</tspan></text></g>
<g id="e13" transform="translate(815 770)"><ellipse class="y" rx="29" ry="30"/><text><tspan x="0" y="-15">X: 610</tspan><tspan x="0" y="0">Y: 382</tspan><tspan x="0" y="15">Tap: 0</tspan></text></g>
<g id="e14" transform="translate(884 770)"><ellipse class="y" rx="29" ry="30"/><text><tspan x="0" y="-15">X: 610</tspan><tspan x="0" y="0">Y: 382</tspan><tspan x="0" y="15">Tap: 0</tspan></text></g>
<g id="e15" transform="translate(985 770)"><ellipse class="y" rx="29" ry="30"/><text><tspan x="0" y="-15">X: 678</tspan><tspan x="0" y="0">Y: 372</tspan><tspan x="0" y="15">Tap: 0</tspan></text></g>
<g id="e16" transform="translate(1055 770)"><ellipse class="y" rx="29" ry="30"/><text><tspan x="0" y="-15">X: 678</tspan><tspan x="0" y="0">Y: 372</tspan><tspan x="0" y="15">Tap: 0</tspan></text></g>
<g id="e17" transform="translate(1125 770)"><ellipse class="y" rx="29" ry="30"/><text><tspan x="0" y="-15">X: 688</tspan><tspan x="0" y="0">Y: 372</tspan><tspan x="0" y="15">Tap: 0</tspan></text></g>
<g id="e18" transform="translate(1195 770)"><ellipse class="y" rx="29" ry="30"/><text><tspan x="0" y="-15">X: 698</tspan><tspan x="0" y="0">Y: 372</tspan><tspan x="0" y="15">Tap: 0</tspan></text></g>
<g id="e19" transform="translate(1265 770)"><ellipse class="y" rx="29" ry="30"/><text><tspan x="0" y="-15">X: 657</tspan><tspan x="0" y="0">Y: 376</tspan><tspan x="0" y="15">Tap: 0</tspan></text></g>
<g id="e20" transform="translate(1335 770)"><ellipse class="y" rx="29" ry="30"/><text><tspan x="0" y="-15">X: 657</tspan><tspan x="0" y="0">Y: 376</tspan><tspan x="0" y="15">Tap: 0</tspan></text></g>
<g id="e21" transform="translate(1405 770)"><ellipse class="y" rx="29" ry="30"/><text><tspan x="0" y="-15">X: 673</tspan><tspan x="0" y="0">Y: 377</tspan><tspan x="0" y="15">Tap: 0</tspan></text></g>
<g id="e22" transform="translate(1475 770)"><ellipse class="y" rx="29" ry="30"/><text><tspan x="0" y="-15">X: 673</tspan><tspan x="0" y="0">Y: 377</tspan><tspan x="0" y="15">Tap: 0</tspan></text></g>
<g id="e23" transform="translate(1545 770)"><ellipse class="y" rx="29" ry="30"/><text><tspan x="0" y="-15">X: 683</tspan><tspan x="0" y="0">Y: 377</tspan><tspan x="0" y="15">Tap: 0</tspan></text></g>
<g id="e24" transform="translate(1615 770)"><ellipse class="y" rx="29" ry="30"/><text><tspan x="0" y="-15">X: 693</tspan><tspan x="0" y="0">Y: 377</tspan><tspan x="0" y="15">Tap: 0</tspan></text></g>
<g id="e25" transform="translate(1685 770)"><ellipse class="y" rx="29" ry="30"/><text><tspan x="0" y="-15">X: 519</tspan><tspan x="0" y="0">Y: 329</tspan><tspan x="0" y="15">Tap: 0</tspan></text></g>
<g id="e26" transform="translate(1755 770)"><ellipse class="y" rx="29" ry="30"/><text><tspan x="0" y="-15">X: 519</tspan><tspan x="0" y="0">Y: 329</tspan><tspan x="0" y="15">Tap: 0</tspan></text></g>
<g id="e27" transform="translate(1825 770)"><ellipse class="y" rx="29" ry="30"/><text><tspan x="0" y="-15">X: 529</tspan><tspan x="0" y="0">Y: 329</tspan><tspan x="0" y="15">Tap: 0</tspan></text></g>
<g id="e28" transform="translate(1895 770)"><ellipse class="y" rx="29" ry="30"/><text><tspan x="0" y="-15">X: 529</tspan><tspan x="0" y="0">Y: 329</tspan><tspan x="0" y="15">Tap: 0</tspan></text></g>
<g id="e29" transform="translate(1965 770)"><ellipse class="y" rx="29" ry="30"/><text><tspan x="0" y="-15">X: 519</tspan><tspan x="0" y="0">Y: 339</tspan><tspan x="0" y="15">Tap: 0</tspan></text></g>
<g id="e30" transform="translate(2035 770)"><ellipse class="y" rx="29" ry="30"/><text><tspan x="0" y="-15">X: 519</tspan><tspan x="0" y="0">Y: 339</tspan><tspan x="0" y="15">Tap: 0</tspan></text></g>
<g id="e31" transform="translate(2105 770)"><ellipse class="y" rx="29" ry="30"/><text><tspan x="0" y="-15">X: 681</tspan><tspan x="0" y="0">Y: 362</tspan><tspan x="0" y="15">Tap: 0</tspan></text></g>
<g id="e32" transform="translate(2175 770)"><ellipse class="y" rx="29" ry="30"/><text><tspan x="0" y="-15">X: 681</tspan><tspan x="0" y="0">Y: 362</tspan><tspan x="0" y="15">Tap: 0</tspan></text></g>
<g id="e33" transform="translate(2245 770)"><ellipse class="y" rx="29" ry="30"/><text><tspan x="0" y="-15">X: 691</tspan><tspan x="0" y="0">Y: 362</tspan><tspan x="0" y="15">Tap: 0</tspan></text></g>
<g id="e34" transform="translate(2315 770)"><ellipse class="y" rx="29" ry="30"/><text><tspan x="0" y="-15">X: 691</tspan><tspan x="0" y="0">Y: 362</tspan><tspan x="0" y="15">Tap: 0</tspan></text></g>
<g id="e35" transform="translate(2385 770)"><ellipse class="w" rx="29" ry="30"/><text><tspan x="0" y="-15">X: 601</tspan><tspan x="0" y="0">Y: 374</tspan><tspan x="0" y="15">Tap: 0</tspan></text></g>
<g id="e36" transform="translate(2455 770)"><ellipse class="y" rx="29" ry="30"/><text><tspan x="0" y="-15">X: 611</tspan><tspan x="0" y="0">Y: 374</tspan><tspan x="0" y="15">Tap: 0</tspan></text></g>
<g id="e37" transform="translate(2525 770)"><ellipse class="y" rx="29" ry="30"/><text><tspan x="0" y="-15">X: 601</tspan><tspan x="0" y="0">Y: 384</tspan><tspan x="0" y="15">Tap: 0</tspan></text></g>
<g id="e38" transform="translate(2621 770)"><ellipse class="y" rx="29" ry="30"/><text><tspan x="0" y="-15">X: 703</tspan><tspan x="0" y="0">Y: 362</tspan><tspan x="0" y="15">Tap: 0</tspan></text></g>
<g id="e39" transform="translate(2691.5 770)"><ellipse class="y" rx="29" ry="30"/><text><tspan x="0" y="-15">X: 703</tspan><tspan x="0" y="0">Y: 362</tspan><tspan x="0" y="15">Tap: 0</tspan></text></g>
<g id="e40" transform="translate(2762 770)"><ellipse class="y" rx="29" ry="30"/><text><tspan x="0" y="-15">X: 656</tspan><tspan x="0" y="0">Y: 375</tspan><tspan x="0" y="15">Tap: 0</tspan></text></g>
<g id="e41" transform="translate(2832.5 770)"><ellipse class="y" rx="29" ry="30"/><text><tspan x="0" y="-15">X: 673</tspan><tspan x="0" y="0">Y: 377</tspan><tspan x="0" y="15">Tap: 0</tspan></text></g>
<g id="e42" transform="translate(2903 770)"><ellipse class="y" rx="29" ry="30"/><text><tspan x="0" y="-15">X: 673</tspan><tspan x="0" y="0">Y: 377</tspan><tspan x="0" y="15">Tap: 0</tspan></text></g>
<g id="e43" transform="translate(2973.5 770)"><ellipse class="y" rx="29" ry="30"/><text><tspan x="0" y="-15">X: 683</tspan><tspan x="0" y="0">Y: 377</tspan><tspan x="0" y="15">Tap: 0</tspan></text></g>
<g id="e44" transform="translate(3044 770)"><ellipse class="y" rx="29" ry="30"/><text><tspan x="0" y="-15">X: 709</tspan><tspan x="0" y="0">Y: 362</tspan><tspan x="0" y="15">Tap: 0</tspan></text></g>
<g id="e45" transform="translate(3114.5 770)"><ellipse class="y" rx="29" ry="30"/><text><tspan x="0" y="-15">X: 709</tspan><tspan x="0" y="0">Y: 362</tspan><tspan x="0" y="15">Tap: 0</tspan></text></g>
<g id="e46" transform="translate(3185 770)"><ellipse class="y" rx="29" ry="30"/><text><tspan x="0" y="-15">X: 692</tspan><tspan x="0" y="0">Y: 363</tspan><tspan x="0" y="15">Tap: 0</tspan></text></g>
<g id="e47" transform="translate(3255.5 770)"><ellipse class="y" rx="29" ry="30"/><text><tspan x="0" y="-15">X: 692</tspan><tspan x="0" y="0">Y: 363</tspan><tspan x="0" y="15">Tap: 0</tspan></text></g>
<g id="e48" transform="translate(3326 770)"><ellipse class="y" rx="29" ry="30"/><text><tspan x="0" y="-15">X: 692</tspan><tspan x="0" y="0">Y: 373</tspan><tspan x="0" y="15">Tap: 0</tspan></text></g>
<g id="e49" transform="translate(3396.5 770)"><ellipse class="y" rx="29" ry="30"/><text><tspan x="0" y="-15">X: 692</tspan><tspan x="0" y="0">Y: 373</tspan><tspan x="0" y="15">Tap: 0</tspan></text></g>
<g id="e50" transform="translate(3467 770)"><ellipse class="w" rx="29" ry="30"/><text><tspan x="0" y="-15">X: 643</tspan><tspan x="0" y="0">Y: 373</tspan><tspan x="0" y="15">Tap: 0</tspan></text></g>
<g id="e51" transform="translate(3561 770)"><ellipse class="y" rx="29" ry="30"/><text><tspan x="0" y="-15">X: 699</tspan><tspan x="0" y="0">Y: 361</tspan><tspan x="0" y="15">Tap: 0</tspan></text></g>
<g id="e52" transform="translate(3631 770)"><ellipse class="y" rx="29" ry="30"/><text><tspan x="0" y="-15">X: 699</tspan><tspan x="0" y="0">Y: 361</tspan><tspan x="0" y="15">Tap: 0</tspan></text></g>
<g id="e53" transform="translate(3701 770)"><ellipse class="y" rx="29" ry="30"/><text><tspan x="0" y="-15">X: 699</tspan><tspan x="0" y="0">Y: 371</tspan><tspan x="0" y="15">Tap: 0</tspan></text></g>
<g id="e54" transform="translate(3771 770)"><ellipse class="y" rx="29" ry="30"/><text><tspan x="0" y="-15">X: 699</tspan><tspan x="0" y="0">Y: 371</tspan><tspan x="0" y="15">Tap: 0</tspan></text></g>
<g id="e55" transform="translate(3841 770)"><ellipse class="y" rx="29" ry="30"/><text><tspan x="0" y="-15">X: 655</tspan><tspan x="0" y="0">Y: 373</tspan><tspan x="0" y="15">Tap: 0</tspan></text></g>
<g id="e56" transform="translate(3911 770)"><ellipse class="y" rx="29" ry="30"/><text><tspan x="0" y="-15">X: 655</tspan><tspan x="0" y="0">Y: 373</tspan><tspan x="0" y="15">Tap: 0</tspan></text></g>
<g id="e57" transform="translate(3981 770)"><ellipse class="y" rx="29" ry="30"/><text><tspan x="0" y="-15">X: 665</tspan><tspan x="0" y="0">Y: 373</tspan><tspan x="0" y="15">Tap: 0</tspan></text></g>
<g id="e58" transform="translate(4051 770)"><ellipse class="y" rx="29" ry="30"/><text><tspan x="0" y="-15">X: 665</tspan><tspan x="0" y="0">Y: 373</tspan><tspan x="0" y="15">Tap: 0</tspan></text></g>
<g id="e59" transform="translate(4121 770)"><ellipse class="y" rx="29" ry="30"/><text><tspan x="0" y="-15">X: 683</tspan><tspan x="0" y="0">Y: 378</tspan><tspan x="0" y="15">Tap: 0</tspan></text></g>
<g id="f1" transform="translate(1040 910)"><circle class="b" r="30"/><text>Pt: 22310</text></g>
<g id="f2" transform="translate(1136 910)"><circle class="b" r="30"/><text>Pt: 23440</text></g>
<g id="f3" transform="translate(1232 910)"><circle class="w" r="30"/><text>Pt: 10200</text></g>
<g id="f4" transform="translate(1328 910)"><circle class="b" r="30"/><text>Pt: 22720</text></g>
<g id="f5" transform="translate(1424 910)"><circle class="b" r="30"/><text>Pt: 24660</text></g>
<g id="f6" transform="translate(1520 910)"><circle class="b" r="30"/><text>Pt: 23210</text></g>
<g id="f7" transform="translate(1616 910)"><circle class="b" r="30"/><text>Pt: 22530</text></g>
<g id="f8" transform="translate(1712 910)"><circle class="b" r="30"/><text>Pt: 22630</text></g>
<g id="f9" transform="translate(1808 910)"><circle class="b" r="30"/><text>Pt: 22030</text></g>
<g id="f10" transform="translate(1904 910)"><circle class="b" r="30"/><text>Pt: 22770</text></g>
<g id="f11" transform="translate(2000 910)"><circle class="b" r="30"/><text>Pt: 23390</text></g>
<g id="f12" transform="translate(2096 910)"><circle class="b" r="30"/><text>Pt: 25550</text></g>
<g id="f13n" transform="translate(2192 910)"><circle class="b" r="30"/><text>Pt: 23470</text></g>
<g id="f14" transform="translate(2288 910)"><circle class="b" r="30"/><text>Pt: 22460</text></g>
<g id="f15" transform="translate(2384 910)"><circle class="b" r="30"/><text>Pt: 22460</text></g>
<g id="f16" transform="translate(2480 910)"><circle class="b" r="30"/><text>Pt: 23730</text></g>
<g id="f17" transform="translate(2576 910)"><circle class="w" r="30"/><text>Pt: 11110</text></g>
<g id="f18" transform="translate(2672 910)"><circle class="b" r="30"/><text>Pt: 23440</text></g>
<g id="f19" transform="translate(2768 910)"><circle class="b" r="30"/><text>Pt: 23820</text></g>
<g id="f20n" transform="translate(2864 910)"><circle class="b" r="30"/><text>Pt: 22090</text></g>
<g id="f21n" transform="translate(2960 910)"><circle class="w" r="30"/><text>Pt: 10380</text></g>
<g id="f22" transform="translate(3056 910)"><circle class="w" r="30"/><text>Pt: 9280</text></g>
<g id="g1" transform="translate(1 1050)"><ellipse class="y" rx="29" ry="30"/><text><tspan x="0" y="-15">X: 698</tspan><tspan x="0" y="0">Y: 363</tspan><tspan x="0" y="15">Tap: 0</tspan></text></g>
<g id="g2" transform="translate(76.3 1050)"><ellipse class="y" rx="29" ry="30"/><text><tspan x="0" y="-15">X: 688</tspan><tspan x="0" y="0">Y: 373</tspan><tspan x="0" y="15">Tap: 0</tspan></text></g>
<g id="g3" transform="translate(151.6 1050)"><ellipse class="y" rx="29" ry="30"/><text><tspan x="0" y="-15">X: 688</tspan><tspan x="0" y="0">Y: 373</tspan><tspan x="0" y="15">Tap: 0</tspan></text></g>
<g id="g4" transform="translate(226.9 1050)"><ellipse class="y" rx="29" ry="30"/><text><tspan x="0" y="-15">X: 667</tspan><tspan x="0" y="0">Y: 372</tspan><tspan x="0" y="15">Tap: 0</tspan></text></g>
<g id="g5" transform="translate(302.2 1050)"><ellipse class="y" rx="29" ry="30"/><text><tspan x="0" y="-15">X: 667</tspan><tspan x="0" y="0">Y: 372</tspan><tspan x="0" y="15">Tap: 0</tspan></text></g>
<g id="g6" transform="translate(377.5 1050)"><ellipse class="y" rx="29" ry="30"/><text><tspan x="0" y="-15">X: 659</tspan><tspan x="0" y="0">Y: 375</tspan><tspan x="0" y="15">Tap: 0</tspan></text></g>
<g id="g7" transform="translate(452.8 1050)"><ellipse class="y" rx="29" ry="30"/><text><tspan x="0" y="-15">X: 659</tspan><tspan x="0" y="0">Y: 375</tspan><tspan x="0" y="15">Tap: 0</tspan></text></g>
<g id="g8" transform="translate(528.1 1050)"><ellipse class="y" rx="29" ry="30"/><text><tspan x="0" y="-15">X: 673</tspan><tspan x="0" y="0">Y: 378</tspan><tspan x="0" y="15">Tap: 0</tspan></text></g>
<g id="g9" transform="translate(603.4 1050)"><ellipse class="y" rx="29" ry="30"/><text><tspan x="0" y="-15">X: 683</tspan><tspan x="0" y="0">Y: 378</tspan><tspan x="0" y="15">Tap: 0</tspan></text></g>
<g id="g10" transform="translate(678.7 1050)"><ellipse class="y" rx="29" ry="30"/><text><tspan x="0" y="-15">X: 683</tspan><tspan x="0" y="0">Y: 378</tspan><tspan x="0" y="15">Tap: 0</tspan></text></g>
<g id="g11" transform="translate(754 1050)"><ellipse class="y" rx="29" ry="30"/><text><tspan x="0" y="-15">X: 722</tspan><tspan x="0" y="0">Y: 374</tspan><tspan x="0" y="15">Tap: 0</tspan></text></g>
<g id="g12" transform="translate(829.3 1050)"><ellipse class="y" rx="29" ry="30"/><text><tspan x="0" y="-15">X: 722</tspan><tspan x="0" y="0">Y: 374</tspan><tspan x="0" y="15">Tap: 0</tspan></text></g>
<g id="g13" transform="translate(904.6 1050)"><ellipse class="y" rx="29" ry="30"/><text><tspan x="0" y="-15">X: 732</tspan><tspan x="0" y="0">Y: 374</tspan><tspan x="0" y="15">Tap: 0</tspan></text></g>
<g id="g14" transform="translate(979.9 1050)"><ellipse class="y" rx="29" ry="30"/><text><tspan x="0" y="-15">X: 732</tspan><tspan x="0" y="0">Y: 374</tspan><tspan x="0" y="15">Tap: 0</tspan></text></g>
<g id="g15" transform="translate(1055.2 1050)"><ellipse class="y" rx="29" ry="30"/><text><tspan x="0" y="-15">X: 618</tspan><tspan x="0" y="0">Y: 377</tspan><tspan x="0" y="15">Tap: 0</tspan></text></g>
<g id="g16" transform="translate(1130.5 1050)"><ellipse class="y" rx="29" ry="30"/><text><tspan x="0" y="-15">X: 618</tspan><tspan x="0" y="0">Y: 377</tspan><tspan x="0" y="15">Tap: 0</tspan></text></g>
<g id="g17" transform="translate(1205.8 1050)"><ellipse class="w" rx="29" ry="30"/><text><tspan x="0" y="-15">X: 604</tspan><tspan x="0" y="0">Y: 373</tspan><tspan x="0" y="15">Tap: 0</tspan></text></g>
<g id="g18" transform="translate(1281.1 1050)"><ellipse class="y" rx="29" ry="30"/><text><tspan x="0" y="-15">X: 604</tspan><tspan x="0" y="0">Y: 373</tspan><tspan x="0" y="15">Tap: 0</tspan></text></g>
<g id="g19" transform="translate(1356.4 1050)"><ellipse class="y" rx="29" ry="30"/><text><tspan x="0" y="-15">X: 614</tspan><tspan x="0" y="0">Y: 373</tspan><tspan x="0" y="15">Tap: 0</tspan></text></g>
<g id="g20" transform="translate(1431.7 1050)"><ellipse class="y" rx="29" ry="30"/><text><tspan x="0" y="-15">X: 614</tspan><tspan x="0" y="0">Y: 373</tspan><tspan x="0" y="15">Tap: 0</tspan></text></g>
<g id="g21" transform="translate(1507 1050)"><ellipse class="y" rx="29" ry="30"/><text><tspan x="0" y="-15">X: 604</tspan><tspan x="0" y="0">Y: 383</tspan><tspan x="0" y="15">Tap: 0</tspan></text></g>
<g id="g22" transform="translate(1614 1050)"><ellipse class="y" rx="29" ry="30"/><text><tspan x="0" y="-15">X: 699</tspan><tspan x="0" y="0">Y: 362</tspan><tspan x="0" y="15">Tap: 0</tspan></text></g>
<g id="g23" transform="translate(1688.8 1050)"><ellipse class="y" rx="29" ry="30"/><text><tspan x="0" y="-15">X: 699</tspan><tspan x="0" y="0">Y: 362</tspan><tspan x="0" y="15">Tap: 0</tspan></text></g>
<g id="g24" transform="translate(1763.6 1050)"><ellipse class="y" rx="29" ry="30"/><text><tspan x="0" y="-15">X: 699</tspan><tspan x="0" y="0">Y: 372</tspan><tspan x="0" y="15">Tap: 0</tspan></text></g>
<g id="g25" transform="translate(1838.4 1050)"><ellipse class="y" rx="29" ry="30"/><text><tspan x="0" y="-15">X: 699</tspan><tspan x="0" y="0">Y: 372</tspan><tspan x="0" y="15">Tap: 0</tspan></text></g>
<g id="g26" transform="translate(1913.2 1050)"><ellipse class="y" rx="29" ry="30"/><text><tspan x="0" y="-15">X: 657</tspan><tspan x="0" y="0">Y: 376</tspan><tspan x="0" y="15">Tap: 0</tspan></text></g>
<g id="g27" transform="translate(1988 1050)"><ellipse class="y" rx="29" ry="30"/><text><tspan x="0" y="-15">X: 657</tspan><tspan x="0" y="0">Y: 376</tspan><tspan x="0" y="15">Tap: 0</tspan></text></g>
<g id="g28" transform="translate(2062.8 1050)"><ellipse class="y" rx="29" ry="30"/><text><tspan x="0" y="-15">X: 674</tspan><tspan x="0" y="0">Y: 378</tspan><tspan x="0" y="15">Tap: 0</tspan></text></g>
<g id="g29" transform="translate(2137.6 1050)"><ellipse class="y" rx="29" ry="30"/><text><tspan x="0" y="-15">X: 674</tspan><tspan x="0" y="0">Y: 378</tspan><tspan x="0" y="15">Tap: 0</tspan></text></g>
<g id="g30" transform="translate(2212.4 1050)"><ellipse class="y" rx="29" ry="30"/><text><tspan x="0" y="-15">X: 684</tspan><tspan x="0" y="0">Y: 378</tspan><tspan x="0" y="15">Tap: 0</tspan></text></g>
<g id="g31" transform="translate(2287.2 1050)"><ellipse class="y" rx="29" ry="30"/><text><tspan x="0" y="-15">X: 684</tspan><tspan x="0" y="0">Y: 378</tspan><tspan x="0" y="15">Tap: 0</tspan></text></g>
<g id="g32" transform="translate(2362 1050)"><ellipse class="y" rx="29" ry="30"/><text><tspan x="0" y="-15">X: 709</tspan><tspan x="0" y="0">Y: 363</tspan><tspan x="0" y="15">Tap: 0</tspan></text></g>
<g id="g33" transform="translate(2436.8 1050)"><ellipse class="y" rx="29" ry="30"/><text><tspan x="0" y="-15">X: 709</tspan><tspan x="0" y="0">Y: 363</tspan><tspan x="0" y="15">Tap: 0</tspan></text></g>
<g id="g34" transform="translate(2511.6 1050)"><ellipse class="y" rx="29" ry="30"/><text><tspan x="0" y="-15">X: 719</tspan><tspan x="0" y="0">Y: 363</tspan><tspan x="0" y="15">Tap: 0</tspan></text></g>
<g id="g35" transform="translate(2586.4 1050)"><ellipse class="y" rx="29" ry="30"/><text><tspan x="0" y="-15">X: 719</tspan><tspan x="0" y="0">Y: 363</tspan><tspan x="0" y="15">Tap: 0</tspan></text></g>
<g id="g36" transform="translate(2661.2 1050)"><ellipse class="y" rx="29" ry="30"/><text><tspan x="0" y="-15">X: 709</tspan><tspan x="0" y="0">Y: 373</tspan><tspan x="0" y="15">Tap: 0</tspan></text></g>
<g id="g37" transform="translate(2736 1050)"><ellipse class="y" rx="29" ry="30"/><text><tspan x="0" y="-15">X: 732</tspan><tspan x="0" y="0">Y: 371</tspan><tspan x="0" y="15">Tap: 0</tspan></text></g>
<g id="g38" transform="translate(2810.8 1050)"><ellipse class="y" rx="29" ry="30"/><text><tspan x="0" y="-15">X: 732</tspan><tspan x="0" y="0">Y: 371</tspan><tspan x="0" y="15">Tap: 0</tspan></text></g>
<g id="g39" transform="translate(2885.6 1050)"><ellipse class="y" rx="29" ry="30"/><text><tspan x="0" y="-15">X: 742</tspan><tspan x="0" y="0">Y: 371</tspan><tspan x="0" y="15">Tap: 0</tspan></text></g>
<g id="g40" transform="translate(2960.4 1050)"><ellipse class="y" rx="29" ry="30"/><text><tspan x="0" y="-15">X: 742</tspan><tspan x="0" y="0">Y: 371</tspan><tspan x="0" y="15">Tap: 0</tspan></text></g>
<g id="g41" transform="translate(3035.2 1050)"><ellipse class="y" rx="29" ry="30"/><text><tspan x="0" y="-15">X: 752</tspan><tspan x="0" y="0">Y: 371</tspan><tspan x="0" y="15">Tap: 0</tspan></text></g>
<g id="g42" transform="translate(3110 1050)"><ellipse class="y" rx="29" ry="30"/><text><tspan x="0" y="-15">X: 752</tspan><tspan x="0" y="0">Y: 371</tspan><tspan x="0" y="15">Tap: 0</tspan></text></g>
<g id="g43" transform="translate(3184.8 1050)"><ellipse class="y" rx="29" ry="30"/><text><tspan x="0" y="-15">X: 762</tspan><tspan x="0" y="0">Y: 371</tspan><tspan x="0" y="15">Tap: 0</tspan></text></g>
<g id="g44" transform="translate(3259.6 1050)"><ellipse class="w" rx="29" ry="30"/><text><tspan x="0" y="-15">X: 604</tspan><tspan x="0" y="0">Y: 374</tspan><tspan x="0" y="15">Tap: 0</tspan></text></g>
<g id="g45" transform="translate(3334.4 1050)"><ellipse class="y" rx="29" ry="30"/><text><tspan x="0" y="-15">X: 604</tspan><tspan x="0" y="0">Y: 374</tspan><tspan x="0" y="15">Tap: 0</tspan></text></g>
<g id="g46" transform="translate(3409.2 1050)"><ellipse class="y" rx="29" ry="30"/><text><tspan x="0" y="-15">X: 614</tspan><tspan x="0" y="0">Y: 374</tspan><tspan x="0" y="15">Tap: 0</tspan></text></g>
<g id="g47" transform="translate(3484 1050)"><ellipse class="y" rx="29" ry="30"/><text><tspan x="0" y="-15">X: 614</tspan><tspan x="0" y="0">Y: 374</tspan><tspan x="0" y="15">Tap: 0</tspan></text></g>
<g id="g48" transform="translate(3558.8 1050)"><ellipse class="y" rx="29" ry="30"/><text><tspan x="0" y="-15">X: 604</tspan><tspan x="0" y="0">Y: 384</tspan><tspan x="0" y="15">Tap: 0</tspan></text></g>
<g id="g49" transform="translate(3667 1050)"><ellipse class="y" rx="29" ry="30"/><text><tspan x="0" y="-15">X: 700</tspan><tspan x="0" y="0">Y: 362</tspan><tspan x="0" y="15">Tap: 0</tspan></text></g>
<g id="g50" transform="translate(3741.8 1050)"><ellipse class="y" rx="29" ry="30"/><text><tspan x="0" y="-15">X: 700</tspan><tspan x="0" y="0">Y: 362</tspan><tspan x="0" y="15">Tap: 0</tspan></text></g>
<g id="g51" transform="translate(3816.6 1050)"><ellipse class="y" rx="29" ry="30"/><text><tspan x="0" y="-15">X: 700</tspan><tspan x="0" y="0">Y: 372</tspan><tspan x="0" y="15">Tap: 0</tspan></text></g>
<g id="g52" transform="translate(3891.4 1050)"><ellipse class="y" rx="29" ry="30"/><text><tspan x="0" y="-15">X: 700</tspan><tspan x="0" y="0">Y: 372</tspan><tspan x="0" y="15">Tap: 0</tspan></text></g>
<g id="g53" transform="translate(3966.2 1050)"><ellipse class="y" rx="29" ry="30"/><text><tspan x="0" y="-15">X: 657</tspan><tspan x="0" y="0">Y: 374</tspan><tspan x="0" y="15">Tap: 0</tspan></text></g>
<g id="g54" transform="translate(4041 1050)"><ellipse class="y" rx="29" ry="30"/><text><tspan x="0" y="-15">X: 657</tspan><tspan x="0" y="0">Y: 374</tspan><tspan x="0" y="15">Tap: 0</tspan></text></g>
<g id="g55" transform="translate(4115.8 1050)"><ellipse class="y" rx="29" ry="30"/><text><tspan x="0" y="-15">X: 674</tspan><tspan x="0" y="0">Y: 378</tspan><tspan x="0" y="15">Tap: 0</tspan></text></g>
<g id="h1" transform="translate(1335 1190)"><circle class="r" r="30"/><text>Pt: 10200</text></g>
<g id="h2" transform="translate(1811 1190)"><circle class="r" r="30"/><text>Pt: 11110</text></g>
<g id="h3" transform="translate(2287 1190)"><circle class="r" r="30"/><text>Pt: 10380</text></g>
<g id="h4" transform="translate(2763 1190)"><circle class="r" r="30"/><text>Pt: 9280</text></g>
</g>
</svg>
